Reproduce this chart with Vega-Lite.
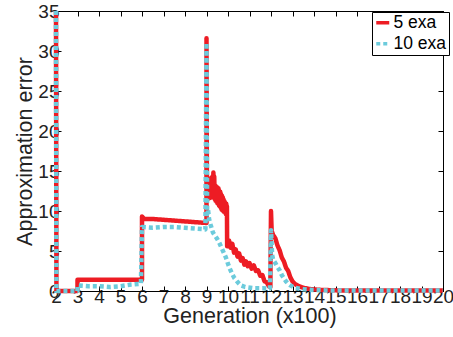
{
  "$schema": "https://vega.github.io/schema/vega-lite/v6.json",
  "width": 387,
  "height": 280,
  "autosize": "none",
  "padding": {"left": 56, "top": 11, "right": 10, "bottom": 46},
  "config": {
    "font": "Liberation Sans",
    "view": {"stroke": "black", "strokeWidth": 1},
    "axis": {"grid": false, "domainColor": "black", "tickColor": "black", "labelColor": "#222", "titleColor": "#222", "labelFont": "Liberation Sans", "titleFont": "Liberation Sans", "titleFontWeight": "normal"}
  },
  "data": {"values": [
    {"i": 1, "g": 2, "e": 35, "s": "5 exa"},
    {"i": 2, "g": 2.02, "e": 0, "s": "5 exa"},
    {"i": 3, "g": 3, "e": 0, "s": "5 exa"},
    {"i": 4, "g": 3, "e": 1.4, "s": "5 exa"},
    {"i": 5, "g": 6, "e": 1.4, "s": "5 exa"},
    {"i": 6, "g": 6, "e": 9.3, "s": "5 exa"},
    {"i": 7, "g": 6.1, "e": 9.0, "s": "5 exa"},
    {"i": 8, "g": 6.5, "e": 9.0, "s": "5 exa"},
    {"i": 9, "g": 7, "e": 8.9, "s": "5 exa"},
    {"i": 10, "g": 7.5, "e": 8.8, "s": "5 exa"},
    {"i": 11, "g": 8, "e": 8.7, "s": "5 exa"},
    {"i": 12, "g": 8.5, "e": 8.6, "s": "5 exa"},
    {"i": 13, "g": 9, "e": 8.5, "s": "5 exa"},
    {"i": 14, "g": 9, "e": 31.6, "s": "5 exa"},
    {"i": 15, "g": 9.02, "e": 11.5, "s": "5 exa"},
    {"i": 16, "g": 9.04, "e": 13.8, "s": "5 exa"},
    {"i": 17, "g": 9.06, "e": 11.5, "s": "5 exa"},
    {"i": 18, "g": 9.08, "e": 13.9, "s": "5 exa"},
    {"i": 19, "g": 9.10, "e": 11.6, "s": "5 exa"},
    {"i": 20, "g": 9.12, "e": 13.9, "s": "5 exa"},
    {"i": 21, "g": 9.14, "e": 11.6, "s": "5 exa"},
    {"i": 22, "g": 9.16, "e": 14.0, "s": "5 exa"},
    {"i": 23, "g": 9.18, "e": 11.7, "s": "5 exa"},
    {"i": 24, "g": 9.20, "e": 14.1, "s": "5 exa"},
    {"i": 25, "g": 9.22, "e": 11.7, "s": "5 exa"},
    {"i": 26, "g": 9.24, "e": 14.2, "s": "5 exa"},
    {"i": 27, "g": 9.26, "e": 11.8, "s": "5 exa"},
    {"i": 28, "g": 9.28, "e": 14.3, "s": "5 exa"},
    {"i": 29, "g": 9.30, "e": 11.9, "s": "5 exa"},
    {"i": 30, "g": 9.32, "e": 14.8, "s": "5 exa"},
    {"i": 31, "g": 9.34, "e": 12.0, "s": "5 exa"},
    {"i": 32, "g": 9.36, "e": 14.3, "s": "5 exa"},
    {"i": 33, "g": 9.38, "e": 11.5, "s": "5 exa"},
    {"i": 34, "g": 9.40, "e": 13.2, "s": "5 exa"},
    {"i": 35, "g": 9.42, "e": 11.3, "s": "5 exa"},
    {"i": 36, "g": 9.44, "e": 13.1, "s": "5 exa"},
    {"i": 37, "g": 9.46, "e": 11.2, "s": "5 exa"},
    {"i": 38, "g": 9.48, "e": 13.0, "s": "5 exa"},
    {"i": 39, "g": 9.50, "e": 11.0, "s": "5 exa"},
    {"i": 40, "g": 9.52, "e": 12.9, "s": "5 exa"},
    {"i": 41, "g": 9.54, "e": 10.9, "s": "5 exa"},
    {"i": 42, "g": 9.56, "e": 12.8, "s": "5 exa"},
    {"i": 43, "g": 9.58, "e": 10.7, "s": "5 exa"},
    {"i": 44, "g": 9.60, "e": 12.5, "s": "5 exa"},
    {"i": 45, "g": 9.62, "e": 10.6, "s": "5 exa"},
    {"i": 46, "g": 9.64, "e": 12.4, "s": "5 exa"},
    {"i": 47, "g": 9.66, "e": 10.4, "s": "5 exa"},
    {"i": 48, "g": 9.68, "e": 12.1, "s": "5 exa"},
    {"i": 49, "g": 9.70, "e": 10.2, "s": "5 exa"},
    {"i": 50, "g": 9.72, "e": 11.9, "s": "5 exa"},
    {"i": 51, "g": 9.74, "e": 10.1, "s": "5 exa"},
    {"i": 52, "g": 9.76, "e": 11.7, "s": "5 exa"},
    {"i": 53, "g": 9.78, "e": 10.0, "s": "5 exa"},
    {"i": 54, "g": 9.80, "e": 11.4, "s": "5 exa"},
    {"i": 55, "g": 9.82, "e": 9.9, "s": "5 exa"},
    {"i": 56, "g": 9.84, "e": 11.2, "s": "5 exa"},
    {"i": 57, "g": 9.86, "e": 9.8, "s": "5 exa"},
    {"i": 58, "g": 9.88, "e": 11.0, "s": "5 exa"},
    {"i": 59, "g": 9.90, "e": 9.6, "s": "5 exa"},
    {"i": 60, "g": 9.92, "e": 10.9, "s": "5 exa"},
    {"i": 61, "g": 9.94, "e": 9.6, "s": "5 exa"},
    {"i": 62, "g": 9.95, "e": 10.6, "s": "5 exa"},
    {"i": 63, "g": 9.96, "e": 5.6, "s": "5 exa"},
    {"i": 64, "g": 10.05, "e": 6.3, "s": "5 exa"},
    {"i": 65, "g": 10.12, "e": 5.4, "s": "5 exa"},
    {"i": 66, "g": 10.2, "e": 5.9, "s": "5 exa"},
    {"i": 67, "g": 10.28, "e": 4.8, "s": "5 exa"},
    {"i": 68, "g": 10.36, "e": 5.2, "s": "5 exa"},
    {"i": 69, "g": 10.44, "e": 4.3, "s": "5 exa"},
    {"i": 70, "g": 10.52, "e": 4.7, "s": "5 exa"},
    {"i": 71, "g": 10.6, "e": 3.8, "s": "5 exa"},
    {"i": 72, "g": 10.68, "e": 4.1, "s": "5 exa"},
    {"i": 73, "g": 10.76, "e": 3.3, "s": "5 exa"},
    {"i": 74, "g": 10.84, "e": 3.7, "s": "5 exa"},
    {"i": 75, "g": 10.92, "e": 3.1, "s": "5 exa"},
    {"i": 76, "g": 11.0, "e": 3.5, "s": "5 exa"},
    {"i": 77, "g": 11.1, "e": 2.8, "s": "5 exa"},
    {"i": 78, "g": 11.2, "e": 3.2, "s": "5 exa"},
    {"i": 79, "g": 11.3, "e": 2.5, "s": "5 exa"},
    {"i": 80, "g": 11.4, "e": 2.6, "s": "5 exa"},
    {"i": 81, "g": 11.5, "e": 1.9, "s": "5 exa"},
    {"i": 82, "g": 11.6, "e": 2.0, "s": "5 exa"},
    {"i": 83, "g": 11.7, "e": 1.2, "s": "5 exa"},
    {"i": 84, "g": 11.8, "e": 1.1, "s": "5 exa"},
    {"i": 85, "g": 11.9, "e": 0.6, "s": "5 exa"},
    {"i": 86, "g": 11.97, "e": 0.5, "s": "5 exa"},
    {"i": 87, "g": 12, "e": 10.0, "s": "5 exa"},
    {"i": 88, "g": 12.03, "e": 7.5, "s": "5 exa"},
    {"i": 89, "g": 12.1, "e": 7.0, "s": "5 exa"},
    {"i": 90, "g": 12.2, "e": 6.6, "s": "5 exa"},
    {"i": 91, "g": 12.3, "e": 5.7, "s": "5 exa"},
    {"i": 92, "g": 12.4, "e": 5.1, "s": "5 exa"},
    {"i": 93, "g": 12.5, "e": 4.2, "s": "5 exa"},
    {"i": 94, "g": 12.6, "e": 3.7, "s": "5 exa"},
    {"i": 95, "g": 12.7, "e": 2.9, "s": "5 exa"},
    {"i": 96, "g": 12.8, "e": 2.5, "s": "5 exa"},
    {"i": 97, "g": 12.9, "e": 1.7, "s": "5 exa"},
    {"i": 98, "g": 13.0, "e": 1.2, "s": "5 exa"},
    {"i": 99, "g": 13.1, "e": 0.9, "s": "5 exa"},
    {"i": 100, "g": 13.3, "e": 0.6, "s": "5 exa"},
    {"i": 101, "g": 13.5, "e": 0.4, "s": "5 exa"},
    {"i": 102, "g": 13.8, "e": 0.25, "s": "5 exa"},
    {"i": 103, "g": 14.2, "e": 0.15, "s": "5 exa"},
    {"i": 104, "g": 15, "e": 0.08, "s": "5 exa"},
    {"i": 105, "g": 16, "e": 0.05, "s": "5 exa"},
    {"i": 106, "g": 20, "e": 0.05, "s": "5 exa"},
    {"i": 201, "g": 2, "e": 35, "s": "10 exa"},
    {"i": 202, "g": 2.02, "e": 0, "s": "10 exa"},
    {"i": 203, "g": 3, "e": 0, "s": "10 exa"},
    {"i": 204, "g": 3, "e": 0.7, "s": "10 exa"},
    {"i": 205, "g": 3.5, "e": 0.6, "s": "10 exa"},
    {"i": 206, "g": 4, "e": 0.6, "s": "10 exa"},
    {"i": 207, "g": 4.5, "e": 0.5, "s": "10 exa"},
    {"i": 208, "g": 5, "e": 0.6, "s": "10 exa"},
    {"i": 209, "g": 5.5, "e": 0.8, "s": "10 exa"},
    {"i": 210, "g": 5.95, "e": 0.9, "s": "10 exa"},
    {"i": 211, "g": 6, "e": 8.0, "s": "10 exa"},
    {"i": 212, "g": 6.5, "e": 7.9, "s": "10 exa"},
    {"i": 213, "g": 7, "e": 8.0, "s": "10 exa"},
    {"i": 214, "g": 7.5, "e": 8.0, "s": "10 exa"},
    {"i": 215, "g": 8, "e": 7.9, "s": "10 exa"},
    {"i": 216, "g": 8.5, "e": 7.8, "s": "10 exa"},
    {"i": 217, "g": 8.95, "e": 7.7, "s": "10 exa"},
    {"i": 218, "g": 9, "e": 31.0, "s": "10 exa"},
    {"i": 219, "g": 9.03, "e": 9.6, "s": "10 exa"},
    {"i": 220, "g": 9.07, "e": 10.2, "s": "10 exa"},
    {"i": 221, "g": 9.12, "e": 9.0, "s": "10 exa"},
    {"i": 222, "g": 9.2, "e": 8.2, "s": "10 exa"},
    {"i": 223, "g": 9.3, "e": 7.3, "s": "10 exa"},
    {"i": 224, "g": 9.4, "e": 6.9, "s": "10 exa"},
    {"i": 225, "g": 9.5, "e": 6.5, "s": "10 exa"},
    {"i": 226, "g": 9.6, "e": 6.0, "s": "10 exa"},
    {"i": 227, "g": 9.7, "e": 5.4, "s": "10 exa"},
    {"i": 228, "g": 9.8, "e": 4.8, "s": "10 exa"},
    {"i": 229, "g": 9.9, "e": 4.2, "s": "10 exa"},
    {"i": 230, "g": 10.0, "e": 3.4, "s": "10 exa"},
    {"i": 231, "g": 10.1, "e": 2.7, "s": "10 exa"},
    {"i": 232, "g": 10.2, "e": 2.1, "s": "10 exa"},
    {"i": 233, "g": 10.3, "e": 1.6, "s": "10 exa"},
    {"i": 234, "g": 10.45, "e": 1.1, "s": "10 exa"},
    {"i": 235, "g": 10.6, "e": 0.7, "s": "10 exa"},
    {"i": 236, "g": 10.8, "e": 0.5, "s": "10 exa"},
    {"i": 237, "g": 11.2, "e": 0.35, "s": "10 exa"},
    {"i": 238, "g": 11.6, "e": 0.35, "s": "10 exa"},
    {"i": 239, "g": 11.95, "e": 0.3, "s": "10 exa"},
    {"i": 240, "g": 12, "e": 7.6, "s": "10 exa"},
    {"i": 241, "g": 12.05, "e": 4.5, "s": "10 exa"},
    {"i": 242, "g": 12.1, "e": 3.9, "s": "10 exa"},
    {"i": 243, "g": 12.2, "e": 3.5, "s": "10 exa"},
    {"i": 244, "g": 12.3, "e": 3.0, "s": "10 exa"},
    {"i": 245, "g": 12.4, "e": 2.6, "s": "10 exa"},
    {"i": 246, "g": 12.5, "e": 2.0, "s": "10 exa"},
    {"i": 247, "g": 12.6, "e": 1.6, "s": "10 exa"},
    {"i": 248, "g": 12.7, "e": 1.2, "s": "10 exa"},
    {"i": 249, "g": 12.8, "e": 0.9, "s": "10 exa"},
    {"i": 250, "g": 12.9, "e": 0.7, "s": "10 exa"},
    {"i": 251, "g": 13.1, "e": 0.4, "s": "10 exa"},
    {"i": 252, "g": 13.4, "e": 0.25, "s": "10 exa"},
    {"i": 253, "g": 13.8, "e": 0.15, "s": "10 exa"},
    {"i": 254, "g": 14.5, "e": 0.08, "s": "10 exa"},
    {"i": 255, "g": 16, "e": 0.05, "s": "10 exa"},
    {"i": 256, "g": 20, "e": 0.05, "s": "10 exa"}
  ]},
  "layer": [
    {
      "mark": {"type": "line", "strokeWidth": 4.5, "strokeJoin": "round", "clip": false},
      "encoding": {
        "x": {"field": "g", "type": "quantitative", "scale": {"domain": [2, 20], "nice": false},
              "axis": {"values": [2,3,4,5,6,7,8,9,10,11,12,13,14,15,16,17,18,19,20], "labelOverlap": false, "labelFontSize": 19, "tickSize": -5, "labelPadding": 1, "title": "Generation (x100)", "titleFontSize": 21.5, "titlePadding": -1, "labelFlush": false}},
        "y": {"field": "e", "type": "quantitative", "scale": {"domain": [0, 35], "nice": false},
              "axis": {"values": [0,5,10,15,20,25,30,35], "labelFontSize": 19, "tickSize": -5, "labelPadding": 2, "title": "Approximation error", "titleFontSize": 21.5, "titlePadding": 1, "labelFlush": false}},
        "color": {"field": "s", "type": "nominal", "scale": {"domain": ["5 exa", "10 exa"], "range": ["#ED1C24", "#6CCBDC"]},
                  "legend": {"title": null, "orient": "none", "legendX": 316, "legendY": 1, "strokeColor": "black", "fillColor": "white", "padding": 2, "labelFontSize": 17.5, "symbolType": "stroke", "symbolSize": 169, "symbolStrokeWidth": 3.5, "rowPadding": 2, "labelOffset": 2, "cornerRadius": 0}},
        "strokeDash": {"field": "s", "type": "nominal", "scale": {"domain": ["5 exa", "10 exa"], "range": [[1, 0], [4, 3]]}, "legend": {"title": null}},
        "order": {"field": "i", "type": "quantitative"}
      }
    },
    {
      "data": {"values": [{"g": 2, "e": 0}]},
      "mark": {"type": "point", "opacity": 0},
      "encoding": {
        "x": {"field": "g", "type": "quantitative", "axis": {"orient": "top", "values": [2,3,4,5,6,7,8,9,10,11,12,13,14,15,16,17,18,19,20], "labels": false, "tickSize": -5, "title": null}},
        "y": {"field": "e", "type": "quantitative", "axis": {"orient": "right", "values": [0,5,10,15,20,25,30,35], "labels": false, "tickSize": -5, "title": null}}
      }
    }
  ],
  "resolve": {"axis": {"x": "independent", "y": "independent"}}
}
